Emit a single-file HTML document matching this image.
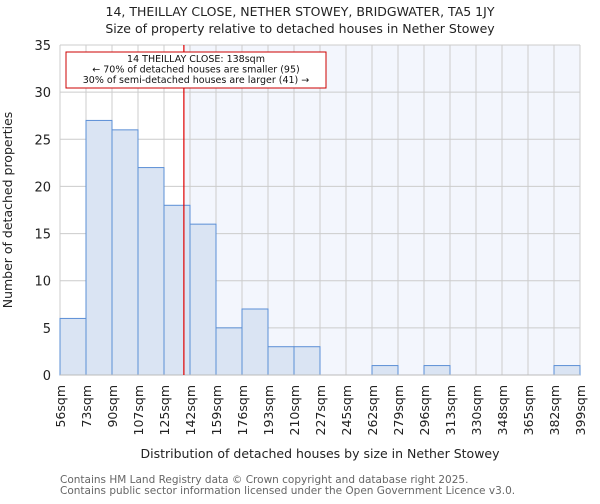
<!DOCTYPE html>
<html><head><meta charset="utf-8"><style>
body{margin:0;background:#fff;font-family:"DejaVu Sans","Liberation Sans",sans-serif;}
svg text{font-family:"DejaVu Sans","Liberation Sans",sans-serif;}
</style></head><body>
<svg id="chart" width="600" height="500" xmlns="http://www.w3.org/2000/svg">
<text x="300" y="16" text-anchor="middle" font-size="12.5" fill="#222">14, THEILLAY CLOSE, NETHER STOWEY, BRIDGWATER, TA5 1JY</text>
<text x="300" y="33" text-anchor="middle" font-size="12.5" fill="#222">Size of property relative to detached houses in Nether Stowey</text>
<g id="plot"></g>
<text x="320" y="458" text-anchor="middle" font-size="12.5" fill="#222">Distribution of detached houses by size in Nether Stowey</text>
<text transform="translate(12,210) rotate(-90)" text-anchor="middle" font-size="12.5" fill="#222">Number of detached properties</text>
<text x="60" y="483" font-size="10.5" fill="#666">Contains HM Land Registry data © Crown copyright and database right 2025.</text>
<text x="60" y="494" font-size="10.5" fill="#666">Contains public sector information licensed under the Open Government Licence v3.0.</text>
</svg>
<script>
const labels=["56sqm","73sqm","90sqm","107sqm","125sqm","142sqm","159sqm","176sqm","193sqm","210sqm","227sqm","245sqm","262sqm","279sqm","296sqm","313sqm","330sqm","348sqm","365sqm","382sqm","399sqm"];
const counts=[6,27,26,22,18,16,5,7,3,3,0,0,1,0,1,0,0,0,0,1];
const yTicks=[0,5,10,15,20,25,30,35];
const subjectSize=138;
const binStarts=[56,73,90,107,125,142,159,176,193,210,227,245,262,279,296,313,330,348,365,382,399];
const NS="http://www.w3.org/2000/svg";
const L=60,R=580,T=45,B=375,yMax=35;
const bw=(R-L)/counts.length;
const xs=i=>L+i*bw;
const ys=v=>B-(v/yMax)*(B-T);
function sizeX(s){for(let i=0;i<binStarts.length-1;i++){if(s>=binStarts[i]&&s<=binStarts[i+1])return xs(i)+bw*(s-binStarts[i])/(binStarts[i+1]-binStarts[i]);}return R;}
const g=document.getElementById('plot');
function mk(t,a){const e=document.createElementNS(NS,t);for(const k in a)e.setAttribute(k,a[k]);g.appendChild(e);return e;}
const rx=sizeX(subjectSize);
let e=mk('rect',{x:L,y:T,width:R-L,height:B-T,fill:'#fff'});


e=mk('rect',{x:rx,y:T,width:R-rx,height:B-T,fill:'#f3f6fd'});


yTicks.forEach(v=>{const l=mk('line',{x1:L,x2:R,y1:ys(v),y2:ys(v),stroke:'#ccc','stroke-width':1});


const t=mk('text',{x:L-9,y:ys(v)+5,'text-anchor':'end','font-size':13,fill:'#222'});t.textContent=v;

});
labels.forEach((s,i)=>{const l=mk('line',{x1:xs(i),x2:xs(i),y1:T,y2:B,stroke:'#ccc','stroke-width':1});


const t=mk('text',{transform:`translate(${xs(i)+5},${B+10}) rotate(-90)`,'text-anchor':'end','font-size':12.5,fill:'#222'});t.textContent=s;

});
counts.forEach((v,i)=>{if(v<=0)return;const r=mk('rect',{x:xs(i),y:ys(v),width:bw,height:B-ys(v),fill:'#dae4f3',stroke:'#5b8fd6','stroke-width':1});

});
e=mk('line',{x1:L,x2:R,y1:B,y2:B,stroke:'#bbb'});


e=mk('line',{x1:rx,x2:rx,y1:T,y2:B,stroke:'#e00000','stroke-width':1.2});


e=mk('rect',{x:66,y:52,width:260,height:36,fill:'#fff',stroke:'#c00','stroke-width':1});


["14 THEILLAY CLOSE: 138sqm","← 70% of detached houses are smaller (95)","30% of semi-detached houses are larger (41) →"].forEach((s,i)=>{const t=mk('text',{x:196,y:62+i*10.5,'text-anchor':'middle','font-size':9.5,fill:'#111'});t.textContent=s;

});
</script>
</body></html>
